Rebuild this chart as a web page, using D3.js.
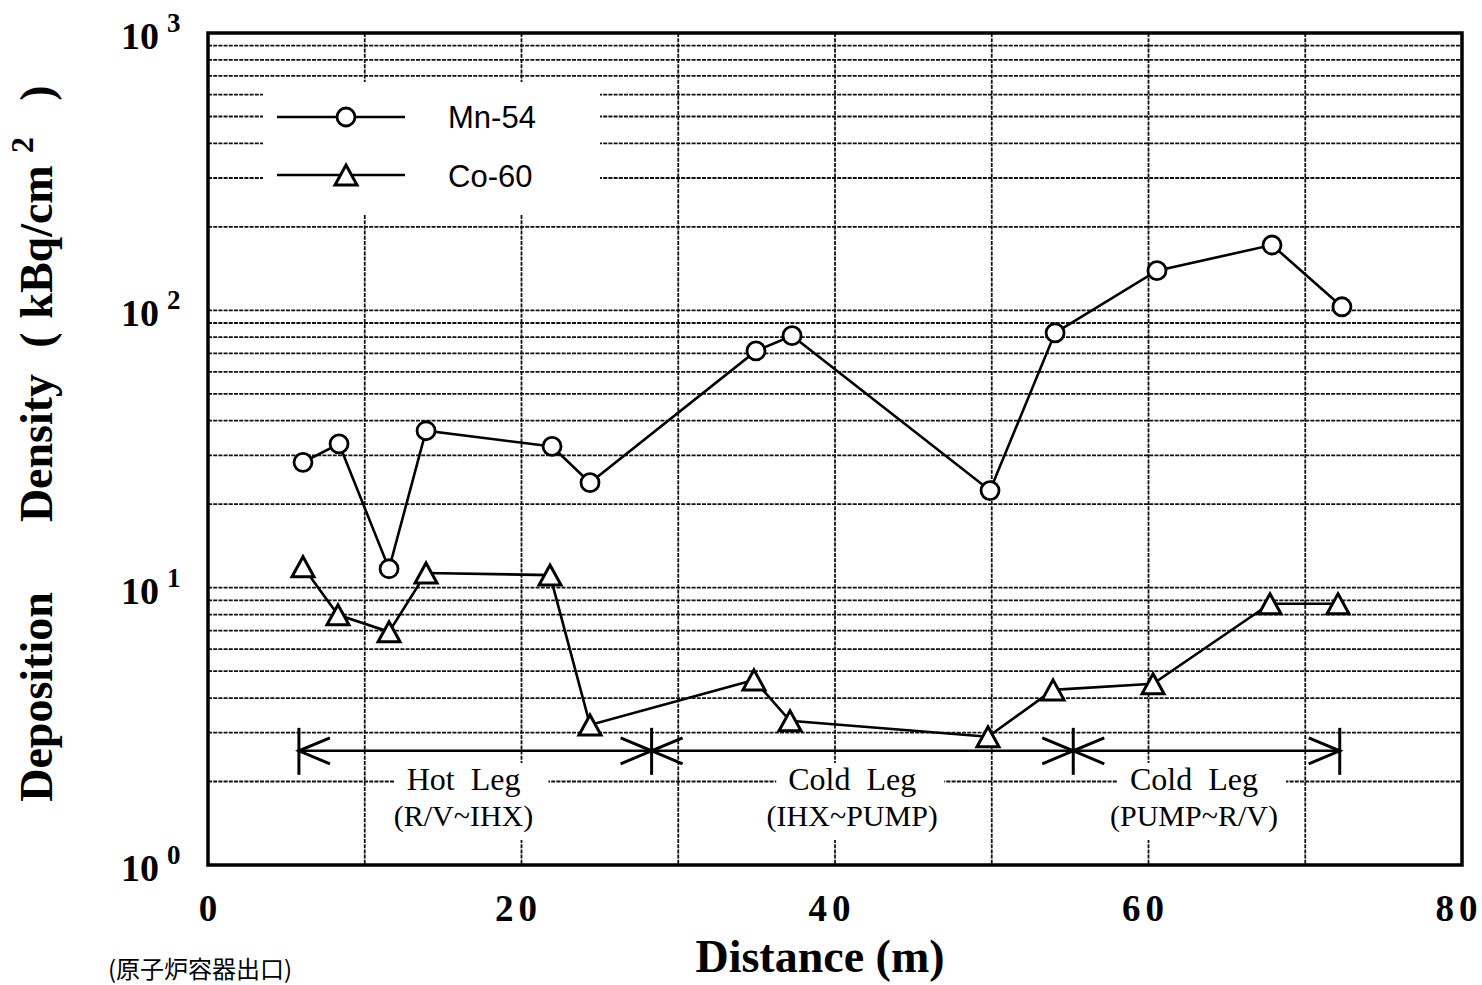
<!DOCTYPE html>
<html>
<head>
<meta charset="utf-8">
<script src="https://cdn.jsdelivr.net/npm/d3@7"></script>
<style>
  html, body { margin: 0; padding: 0; background: #fff; }
  svg { display: block; }
  text { white-space: pre; }
</style>
</head>
<body>
<div id="chart"></div>
<script>
// ---------------- data ----------------
const mnDistance = [6.06, 8.36, 11.55, 13.91, 21.95, 24.37, 34.96, 37.26, 49.89, 54.04, 60.54, 67.88, 72.34];
const mnValues   = [28.3, 33.0, 11.7, 36.8, 32.3, 23.9, 71.4, 81.0, 22.4, 83.0, 139, 172, 103];
const coDistance = [6.06, 8.29, 11.55, 13.91, 21.82, 24.37, 34.83, 37.13, 49.76, 53.91, 60.29, 67.75, 72.09];
const coValues   = [11.9, 7.98, 6.93, 11.3, 11.1, 3.20, 4.65, 3.31, 2.90, 4.28, 4.50, 8.75, 8.75];
const seriesNames = ["Mn-54", "Co-60"];
const xTicks = [0, 20, 40, 60, 80];
const xGrid  = [10, 20, 30, 40, 50, 60, 70];
const yDecades = [1, 10, 100, 1000];
const yExponents = ["0", "1", "2", "3"];
// section annotation (distance in m)
const sectionBounds = [5.8, 28.3, 55.2, 72.2];
const sectionArrowValue = 2.58;
const sectionTitles = ["Hot  Leg", "Cold  Leg", "Cold  Leg"];
const sectionSubtitles = ["(R/V~IHX)", "(IHX~PUMP)", "(PUMP~R/V)"];
const sectionCenters = [16.3, 41.1, 62.9];
const xTitle = "Distance (m)";
const footNote = "(原子炉容器出口)";

// ---------------- layout ----------------
const W = 1482, H = 985;
const pL = 208, pR = 1462, pT = 33, pB = 865;
const serif = "'Liberation Serif', 'Times New Roman', serif";
const sans = "'Liberation Sans', Arial, sans-serif";

const svg = d3.select("#chart").append("svg").attr("width", W).attr("height", H);

const x = d3.scaleLinear().domain([0, 80]).range([pL, pR]);
const y = d3.scaleLog().domain([1, 1000]).range([pB, pT]);

// minor/major horizontal grid lines
const yGridVals = [];
for (let d = 1; d < 1000; d *= 10) for (let k = 1; k <= 9; k++) { if (!(d === 1 && k === 1)) yGridVals.push(d * k); }
const grid = svg.append("g").attr("stroke", "#111").attr("stroke-width", 1.8).attr("stroke-dasharray", "4,1.2");
grid.selectAll("line.h").data(yGridVals).join("line").attr("class", "h")
  .attr("x1", pL).attr("x2", pR).attr("y1", d => y(d)).attr("y2", d => y(d));
grid.selectAll("line.v").data(xGrid).join("line").attr("class", "v")
  .attr("x1", d => x(d)).attr("x2", d => x(d)).attr("y1", pT).attr("y2", pB);

// legend background (hides grid)
svg.append("rect").attr("x", 263).attr("y", 82).attr("width", 337).attr("height", 132).attr("fill", "#fff");

// section labels with backgrounds
const labG = svg.append("g");
const labelTitleY = 790, labelSubY = 826;
sectionCenters.forEach((c, i) => {
  const t = labG.append("text").attr("x", x(c)).attr("y", labelTitleY).attr("text-anchor", "middle")
    .attr("font-family", serif).attr("font-size", 32).text(sectionTitles[i]);
  const s = labG.append("text").attr("x", x(c)).attr("y", labelSubY).attr("text-anchor", "middle")
    .attr("font-family", serif).attr("font-size", 30).text(sectionSubtitles[i]);
  const bt = t.node().getBBox(), bs = s.node().getBBox();
  labG.insert("rect", "text").attr("x", bt.x - 12).attr("y", 763).attr("width", bt.width + 40).attr("height", 38).attr("fill", "#fff");
  labG.insert("rect", "text").attr("x", bs.x - 12).attr("y", 801).attr("width", bs.width + 28).attr("height", 39).attr("fill", "#fff");
});

// section arrows
const ay = y(sectionArrowValue);
const arr = svg.append("g").attr("stroke", "#000").attr("fill", "none");
arr.append("line").attr("x1", x(sectionBounds[0])).attr("x2", x(sectionBounds[sectionBounds.length - 1]))
  .attr("y1", ay).attr("y2", ay).attr("stroke-width", 2.5);
sectionBounds.forEach((b, i) => {
  const bx = x(b);
  arr.append("line").attr("x1", bx).attr("x2", bx).attr("y1", ay - 23).attr("y2", ay + 24).attr("stroke-width", 3);
  if (i > 0) {
    arr.append("path").attr("d", `M${bx - 31},${ay - 13}L${bx},${ay}L${bx - 31},${ay + 13}`).attr("stroke-width", 3);
  }
  if (i < sectionBounds.length - 1) {
    arr.append("path").attr("d", `M${bx + 31},${ay - 13}L${bx},${ay}L${bx + 31},${ay + 13}`).attr("stroke-width", 3);
  }
});

// frame
svg.append("rect").attr("x", pL).attr("y", pT).attr("width", pR - pL).attr("height", pB - pT)
  .attr("fill", "none").attr("stroke", "#000").attr("stroke-width", 3.5);

// data lines
const line = d3.line().x(d => x(d[0])).y(d => y(d[1]));
const mnData = mnDistance.map((d, i) => [d, mnValues[i]]);
const coData = coDistance.map((d, i) => [d, coValues[i]]);
svg.append("path").datum(mnData).attr("d", line).attr("fill", "none").attr("stroke", "#000").attr("stroke-width", 2.6);
svg.append("path").datum(coData).attr("d", line).attr("fill", "none").attr("stroke", "#000").attr("stroke-width", 2.6);

const triPath = (cx, cy) => `M${cx},${cy - 10}L${cx + 11},${cy + 10}L${cx - 11},${cy + 10}Z`;
svg.append("g").selectAll("circle").data(mnData).join("circle")
  .attr("cx", d => x(d[0])).attr("cy", d => y(d[1])).attr("r", 9)
  .attr("fill", "#fff").attr("stroke", "#000").attr("stroke-width", 2.8);
svg.append("g").selectAll("path").data(coData).join("path")
  .attr("d", d => triPath(x(d[0]), y(d[1])))
  .attr("fill", "#fff").attr("stroke", "#000").attr("stroke-width", 3).attr("stroke-linejoin", "miter");

// legend
const lg = svg.append("g");
lg.append("line").attr("x1", 277).attr("x2", 405).attr("y1", 117).attr("y2", 117).attr("stroke", "#000").attr("stroke-width", 2.6);
lg.append("circle").attr("cx", 346).attr("cy", 117).attr("r", 9).attr("fill", "#fff").attr("stroke", "#000").attr("stroke-width", 2.8);
lg.append("line").attr("x1", 277).attr("x2", 405).attr("y1", 175).attr("y2", 175).attr("stroke", "#000").attr("stroke-width", 2.6);
lg.append("path").attr("d", triPath(346, 175)).attr("fill", "#fff").attr("stroke", "#000").attr("stroke-width", 3);
lg.append("text").attr("x", 448).attr("y", 128).attr("font-family", sans).attr("font-size", 31).text(seriesNames[0]);
lg.append("text").attr("x", 448).attr("y", 187).attr("font-family", sans).attr("font-size", 31).text(seriesNames[1]);

// x tick labels
svg.append("g").selectAll("text").data(xTicks).join("text")
  .attr("x", d => x(d) - (d >= 10 ? 3 : 0)).attr("y", 921).attr("text-anchor", "middle")
  .attr("font-family", serif).attr("font-weight", "bold").attr("font-size", 37)
  .attr("letter-spacing", d => d >= 10 ? 5 : 0).text(d => d);

// y tick labels 10^n
const yt = svg.append("g").attr("font-family", serif).attr("font-weight", "bold");
yDecades.forEach((v, i) => {
  yt.append("text").attr("x", 159).attr("y", y(v) + 16).attr("text-anchor", "end").attr("font-size", 38).text("10");
  yt.append("text").attr("x", 167).attr("y", y(v) - 1).attr("font-size", 27).text(yExponents[i]);
});

// x axis title
svg.append("text").attr("x", 820).attr("y", 972).attr("text-anchor", "middle")
  .attr("font-family", serif).attr("font-weight", "bold").attr("font-size", 46).text(xTitle);

// y axis title pieces (rotated), centred at given positions along the axis
const yTitle = [
  { t: "Deposition", c: 697, bx: 52, fs: 46 },
  { t: "Density", c: 448, bx: 52, fs: 46 },
  { t: "(", c: 340, bx: 52, fs: 46 },
  { t: "kBq/cm", c: 242, bx: 52, fs: 46 },
  { t: "2", c: 145, bx: 33, fs: 32 },
  { t: ")", c: 93, bx: 52, fs: 46 }
];
const yg = svg.append("g").attr("font-family", serif).attr("font-weight", "bold");
yTitle.forEach(p => {
  yg.append("text").attr("transform", `translate(${p.bx},${p.c}) rotate(-90)`)
    .attr("x", 0).attr("y", 0).attr("text-anchor", "middle").attr("font-size", p.fs).text(p.t);
});

// footnote
svg.append("text").attr("x", 108).attr("y", 978).attr("font-family", "'Noto Sans CJK JP', sans-serif")
  .attr("font-size", 24).text(footNote);
</script>
</body>
</html>
